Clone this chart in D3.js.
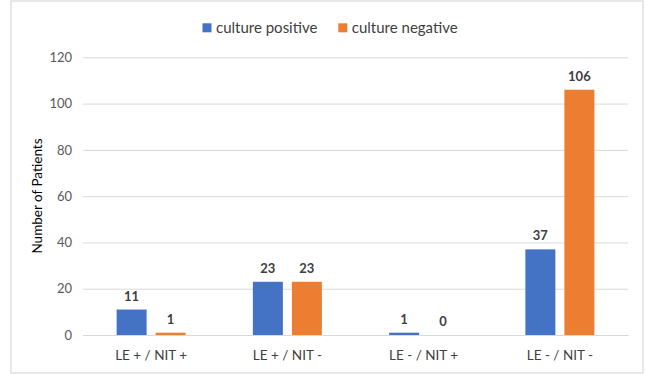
<!DOCTYPE html>
<html>
<head>
<meta charset="utf-8">
<script src="https://cdn.jsdelivr.net/npm/d3@7"></script>
<style>
  html, body { margin: 0; padding: 0; background: #fff; }
  svg { display: block; font-family: Lato, "Open Sans", sans-serif; }
</style>
</head>
<body>
<svg id="chart" width="647" height="374"></svg>
<script>
// Urinalysis result groups and patient counts by culture outcome
const categories = ["LE + / NIT +", "LE + / NIT -", "LE - / NIT +", "LE - / NIT -"];
const seriesNames = ["culture positive", "culture negative"];
const culturePositive = [11, 23, 1, 37];
const cultureNegative = [1, 23, 0, 106];
const yTicks = [0, 20, 40, 60, 80, 100, 120];
const seriesColors = ["#4472C4", "#ED7D31"];

const seriesValues = [culturePositive, cultureNegative];
const rows = categories.map((c, i) => ({
  category: c,
  values: seriesNames.map((s, j) => ({ series: s, value: seriesValues[j][i] }))
}));

const svg = d3.select("#chart");
const plot = { left: 83, right: 628, top: 57.3, bottom: 335 };

// chart frame
svg.append("rect")
  .attr("x", 11).attr("y", 1)
  .attr("width", 632).attr("height", 372)
  .attr("fill", "#fff")
  .attr("stroke", "#d9d9d9")
  .attr("stroke-width", 1.2);

const x0 = d3.scaleBand()
  .domain(categories)
  .range([plot.left, plot.right])
  .paddingInner(0.4936)
  .paddingOuter(0.4936 / 2);

const x1 = d3.scaleBand()
  .domain(seriesNames)
  .range([0, x0.bandwidth()])
  .paddingInner(0.2308);

const y = d3.scaleLinear()
  .domain([0, 120])
  .range([plot.bottom, plot.top]);

const color = d3.scaleOrdinal().domain(seriesNames).range(seriesColors);

// gridlines and value axis labels
const yAxis = d3.axisLeft(y)
  .tickValues(yTicks)
  .tickSize(-(plot.right - plot.left))
  .tickPadding(11);

const gy = svg.append("g")
  .attr("transform", `translate(${plot.left},0)`)
  .call(yAxis);
gy.select(".domain").remove();
gy.selectAll(".tick line").attr("stroke", "#d9d9d9").attr("stroke-width", 1);
gy.selectAll(".tick text")
  .attr("fill", "#595959")
  .style("font-size", "13px")
  .style("font-family", "Lato, 'Open Sans', sans-serif");

// category axis labels
const gx = svg.append("g")
  .attr("transform", `translate(0,${plot.bottom})`)
  .call(d3.axisBottom(x0).tickSize(0).tickPadding(15));
gx.select(".domain").attr("stroke", "#d9d9d9");
gx.selectAll(".tick text")
  .attr("fill", "#404040")
  .style("font-size", "13.5px")
  .style("font-family", "Lato, 'Open Sans', sans-serif");

// bars
const groups = svg.append("g").selectAll("g")
  .data(rows)
  .join("g")
  .attr("transform", d => `translate(${x0(d.category)},0)`);

groups.selectAll("rect")
  .data(d => d.values)
  .join("rect")
  .attr("x", d => x1(d.series))
  .attr("y", d => y(d.value))
  .attr("width", x1.bandwidth())
  .attr("height", d => y(0) - y(d.value))
  .attr("fill", d => color(d.series));

// value labels
groups.selectAll("text")
  .data(d => d.values)
  .join("text")
  .attr("x", d => x1(d.series) + x1.bandwidth() / 2)
  .attr("y", d => y(d.value) - 9)
  .attr("text-anchor", "middle")
  .attr("fill", "#404040")
  .style("font-size", "13px")
  .style("font-weight", "bold")
  .text(d => d.value);

// axis title
svg.append("text")
  .attr("transform", "translate(42,196) rotate(-90)")
  .attr("text-anchor", "middle")
  .attr("fill", "#000")
  .style("font-size", "13.5px")
  .text("Number of Patients");

// legend
const legendItems = [
  { name: seriesNames[0], x: 202.5 },
  { name: seriesNames[1], x: 338.3 }
];
const legend = svg.append("g").selectAll("g")
  .data(legendItems)
  .join("g")
  .attr("transform", d => `translate(${d.x},23.3)`);
legend.append("rect")
  .attr("width", 9).attr("height", 9)
  .attr("fill", d => color(d.name));
legend.append("text")
  .attr("x", 13.5).attr("y", 9.5)
  .attr("fill", "#404040")
  .style("font-size", "15px")
  .text(d => d.name);
</script>
</body>
</html>
